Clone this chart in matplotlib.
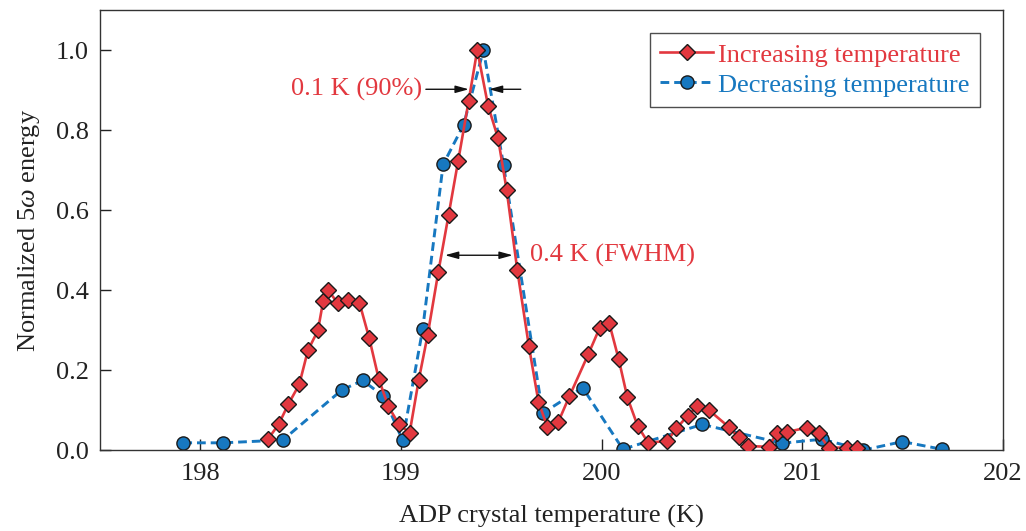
import matplotlib
matplotlib.use("Agg")
import matplotlib.pyplot as plt

plt.rcParams['font.family'] = ['Liberation Serif', 'DejaVu Serif']
plt.rcParams['mathtext.fontset'] = 'custom'
plt.rcParams['mathtext.rm'] = 'Liberation Serif'
plt.rcParams['mathtext.it'] = 'Liberation Serif:italic'

# donnees
t_up = [198.338, 198.390, 198.439, 198.493, 198.536, 198.586, 198.612, 198.635,
        198.685, 198.735, 198.793, 198.842, 198.889, 198.937, 198.989, 199.043,
        199.088, 199.133, 199.186, 199.237, 199.285, 199.337, 199.380, 199.434,
        199.484, 199.527, 199.580, 199.637, 199.685, 199.730, 199.783, 199.839,
        199.934, 199.990, 200.038, 200.085, 200.128, 200.179, 200.232, 200.327,
        200.373, 200.429, 200.476, 200.534, 200.633, 200.683, 200.728, 200.832,
        200.874, 200.924, 201.023, 201.081, 201.131, 201.222, 201.272]
e_up = [0.028, 0.064, 0.115, 0.164, 0.249, 0.299, 0.372, 0.401,
        0.367, 0.374, 0.368, 0.279, 0.178, 0.109, 0.065, 0.043,
        0.174, 0.288, 0.445, 0.587, 0.723, 0.872, 1.000, 0.861,
        0.779, 0.649, 0.449, 0.261, 0.121, 0.057, 0.069, 0.134,
        0.240, 0.305, 0.317, 0.227, 0.132, 0.061, 0.018, 0.023,
        0.054, 0.086, 0.109, 0.100, 0.058, 0.032, 0.010, 0.008,
        0.043, 0.045, 0.056, 0.042, 0.006, 0.006, 0.004]

t_down = [197.915, 198.114, 198.411, 198.705, 198.809, 198.912, 199.008, 199.108,
          199.210, 199.312, 199.411, 199.511, 199.706, 199.905, 200.106, 200.501,
          200.899, 201.098, 201.305, 201.499, 201.695]
e_down = [0.018, 0.018, 0.025, 0.150, 0.174, 0.135, 0.024, 0.302,
          0.714, 0.813, 1.000, 0.713, 0.092, 0.156, 0.002, 0.064,
          0.017, 0.027, 0.000, 0.021, 0.002]

rouge = '#e2383f'
bleu = '#1778c0'
fs = 19

fig = plt.figure(figsize=(10.26, 5.31), dpi=100)
ax = fig.add_axes([0.0975, 0.1525, 0.88, 0.8285])

ax.plot(t_down, e_down, color=bleu, lw=2.1, dashes=(3.0, 1.7), marker='o',
        ms=9.5, mfc=bleu, mec='#1a1a1a', mew=1.0, label='Decreasing temperature', zorder=2)
ax.plot(t_up, e_up, color=rouge, lw=1.9, marker='D', ms=8.5, mfc=rouge,
        mec='#1a1a1a', mew=1.0, label='Increasing temperature', zorder=3)

ax.set_xlim(197.5, 202)
ax.set_ylim(0, 1.1)
ax.set_xticks([198, 199, 200, 201, 202])
ax.set_yticks([0.0, 0.2, 0.4, 0.6, 0.8, 1.0])
ax.set_yticklabels(['0.0', '0.2', '0.4', '0.6', '0.8', '1.0'])
ax.tick_params(direction='in', length=8, width=1, labelsize=fs, pad=8, colors='#222222')
ax.tick_params(axis='x', pad=9)
for s in ax.spines.values():
    s.set_color('#333333')
    s.set_linewidth(1.0)

ax.set_xlabel('ADP crystal temperature (K)', fontsize=fs, color='#222222', labelpad=15)
ax.set_ylabel(r'Normalized 5$\omega$ energy', fontsize=fs, color='#222222', labelpad=10)

# fleches
fleche = dict(arrowstyle='-|>,head_length=0.8,head_width=0.22', color='#111111', lw=1.0,
              shrinkA=0, shrinkB=0)
ax.annotate('', xy=(199.338, 0.902), xytext=(199.124, 0.902), arrowprops=fleche)
ax.annotate('', xy=(199.438, 0.902), xytext=(199.597, 0.902), arrowprops=fleche)
ax.text(199.105, 0.902, '0.1 K (90%)', color=rouge, fontsize=fs, ha='right', va='center')

double = dict(arrowstyle='<|-|>,head_length=0.8,head_width=0.22', color='#111111', lw=1.0,
              shrinkA=0, shrinkB=0)
ax.annotate('', xy=(199.557, 0.487), xytext=(199.219, 0.487), arrowprops=double)
ax.text(199.645, 0.487, '0.4 K (FWHM)', color=rouge, fontsize=fs, ha='left', va='center')

h, l = ax.get_legend_handles_labels()
leg = ax.legend(h[::-1], l[::-1], loc='upper right', fontsize=fs, frameon=True, fancybox=False,
                edgecolor='#222222', borderpad=0.4, handlelength=2.0, handletextpad=0.2,
                labelspacing=0.25, borderaxespad=0.85)
leg.get_frame().set_linewidth(1.0)
for txt, c in zip(leg.get_texts(), [rouge, bleu]):
    txt.set_color(c)

fig.savefig('out.png', dpi=100)
